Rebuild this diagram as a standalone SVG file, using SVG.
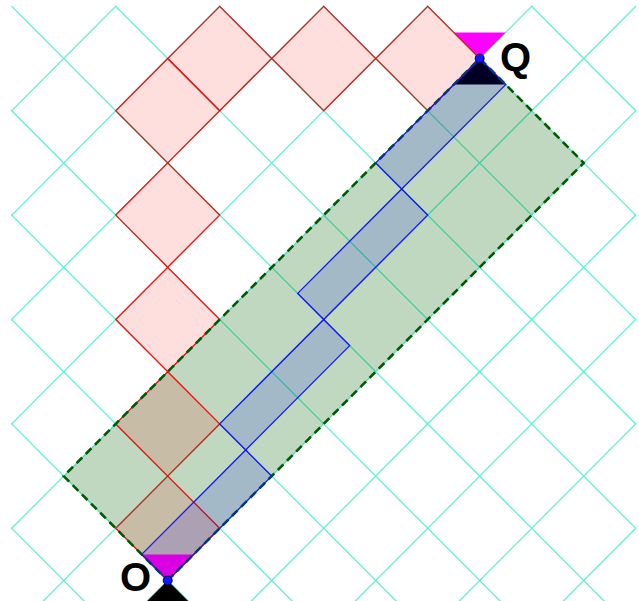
<svg xmlns="http://www.w3.org/2000/svg" width="639" height="601" viewBox="0 0 639 601">
  <style>
    .grid line { stroke: #5ff2d4; stroke-width: 1.3; }
    .cell { fill: #ff0000; fill-opacity: 0.13; stroke: #f01010; stroke-width: 1.25; }
    .band { fill: #006400; fill-opacity: 0.25; stroke: none; }
    .bandEdge { fill: none; stroke: #005a00; stroke-width: 2.6; stroke-dasharray: 8 5; }
    .strip { fill: #0000ff; fill-opacity: 0.14; stroke: #1515f5; stroke-width: 1.3; }
    .mag { fill: #ff00ff; }
    .blk { fill: #000000; }
    .pt { fill: #1515ff; stroke: #000044; stroke-width: 1; }
    .lbl { font-family: "Liberation Sans", Arial, sans-serif; font-weight: bold; font-size: 40px; fill: #000000; }
  </style>
  <defs>
    <clipPath id="gridClip">
      <rect x="11.2" y="5.8" width="625" height="600"/>
    </clipPath>
  </defs>
  <rect width="639" height="601" fill="#ffffff"/>

  <g id="grid" class="grid" clip-path="url(#gridClip)">
    <line x1="427.7" y1="945.9" x2="-508.3" y2="6.3"/>
    <line x1="479.7" y1="893.7" x2="-456.3" y2="-45.9"/>
    <line x1="531.7" y1="841.5" x2="-404.3" y2="-98.1"/>
    <line x1="583.7" y1="789.3" x2="-352.3" y2="-150.3"/>
    <line x1="635.7" y1="737.1" x2="-300.3" y2="-202.5"/>
    <line x1="687.7" y1="684.9" x2="-248.3" y2="-254.7"/>
    <line x1="739.7" y1="632.7" x2="-196.3" y2="-306.9"/>
    <line x1="791.7" y1="580.5" x2="-144.3" y2="-359.1"/>
    <line x1="843.7" y1="528.3" x2="-92.3" y2="-411.3"/>
    <line x1="895.7" y1="476.1" x2="-40.3" y2="-463.5"/>
    <line x1="947.7" y1="423.9" x2="11.7" y2="-515.7"/>
    <line x1="63.7" y1="1102.5" x2="999.7" y2="162.9"/>
    <line x1="11.7" y1="1050.3" x2="947.7" y2="110.7"/>
    <line x1="-40.3" y1="998.1" x2="895.7" y2="58.5"/>
    <line x1="-92.3" y1="945.9" x2="843.7" y2="6.3"/>
    <line x1="-144.3" y1="893.7" x2="791.7" y2="-45.9"/>
    <line x1="-196.3" y1="841.5" x2="739.7" y2="-98.1"/>
    <line x1="-248.3" y1="789.3" x2="687.7" y2="-150.3"/>
    <line x1="-300.3" y1="737.1" x2="635.7" y2="-202.5"/>
    <line x1="-352.3" y1="684.9" x2="583.7" y2="-254.7"/>
    <line x1="-404.3" y1="632.7" x2="531.7" y2="-306.9"/>
    <line x1="-456.3" y1="580.5" x2="479.7" y2="-359.1"/>
  </g>

  <g id="band">
    <polygon class="band" points="167.7,580.5 583.7,162.9 479.7,58.5 63.7,476.1"/>
  </g>

  <g id="cones">
    <polygon class="mag" points="167.7,580.5 141.7,554.4 193.7,554.4"/>
    <polygon class="blk" points="167.7,580.5 141.7,606.6 193.7,606.6"/>
    <polygon class="mag" points="479.7,58.5 453.7,32.4 505.7,32.4"/>
    <polygon class="blk" points="479.7,58.5 453.7,84.6 505.7,84.6"/>
  </g>

  <g id="path-cells">
    <polygon class="cell" points="167.7,580.5 219.7,528.3 167.7,476.1 115.7,528.3"/>
    <polygon class="cell" points="167.7,476.1 219.7,423.9 167.7,371.7 115.7,423.9"/>
    <polygon class="cell" points="167.7,371.7 219.7,319.5 167.7,267.3 115.7,319.5"/>
    <polygon class="cell" points="167.7,267.3 219.7,215.1 167.7,162.9 115.7,215.1"/>
    <polygon class="cell" points="167.7,162.9 219.7,110.7 167.7,58.5 115.7,110.7"/>
    <polygon class="cell" points="219.7,110.7 271.7,58.5 219.7,6.3 167.7,58.5"/>
    <polygon class="cell" points="323.7,110.7 375.7,58.5 323.7,6.3 271.7,58.5"/>
    <polygon class="cell" points="427.7,110.7 479.7,58.5 427.7,6.3 375.7,58.5"/>
  </g>

  <g id="band-edge">
    <polygon class="bandEdge" points="167.7,580.5 583.7,162.9 479.7,58.5 63.7,476.1"/>
  </g>

  <g id="strip">
    <polygon class="strip" points="167.7,580.5 271.7,476.1 245.7,450.0 141.7,554.4"/>
    <polygon class="strip" points="245.7,450.0 349.7,345.6 323.7,319.5 219.7,423.9"/>
    <polygon class="strip" points="323.7,319.5 427.7,215.1 401.7,189.0 297.7,293.4"/>
    <polygon class="strip" points="401.7,189.0 505.7,84.6 479.7,58.5 375.7,162.9"/>
  </g>

  <g id="node-O">
    <circle class="pt" cx="167.7" cy="580.5" r="4.5"/>
    <text class="lbl" x="120" y="591">O</text>
  </g>
  <g id="node-Q">
    <circle class="pt" cx="479.7" cy="58.5" r="4.5"/>
    <text class="lbl" x="500" y="71">Q</text>
  </g>
</svg>
